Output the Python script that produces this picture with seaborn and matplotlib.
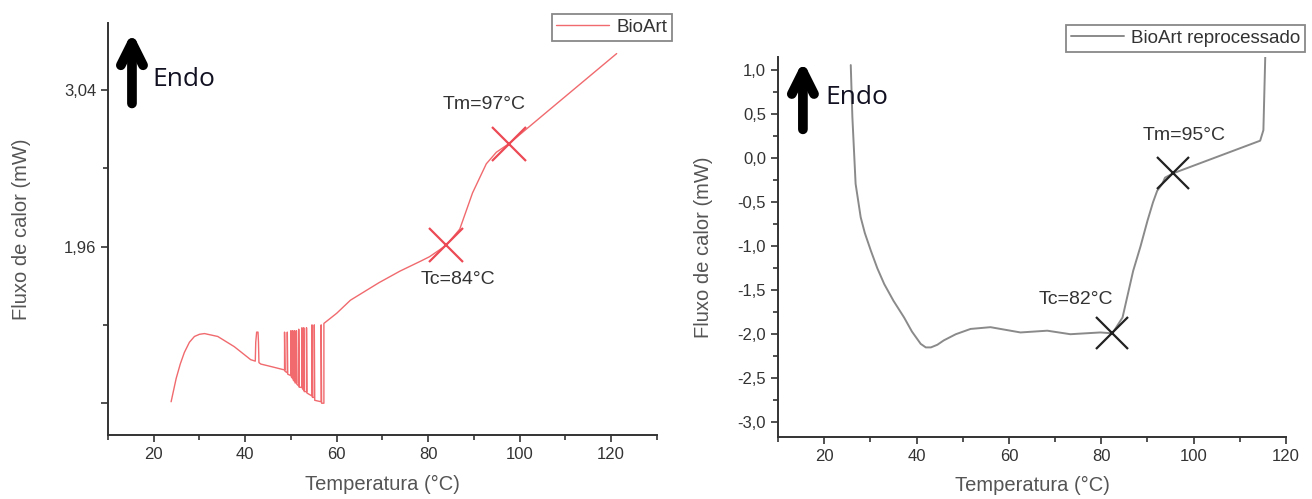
import matplotlib
matplotlib.use("Agg")
import matplotlib.pyplot as plt
import seaborn as sns
import pandas as pd

# ---------------- data ----------------
# Left panel: BioArt
temp_bioart = [23.8, 24.9, 25.8, 26.7, 27.8, 28.9, 30.0, 31.1, 34.0, 37.6, 41.2, 42.2, 42.3, 42.5, 42.8, 42.9, 43.0, 43.4, 46.0, 48.5,
               48.6, 48.6, 48.7,
               49.2, 49.2, 49.3,
               50.0, 50.0, 50.1,
               50.4, 50.4, 50.5,
               50.8, 50.8, 50.9,
               51.2, 51.2, 51.3,
               51.7, 51.7, 51.8,
               52.4, 52.4, 52.5,
               52.8, 52.8, 52.9,
               53.4, 53.4, 53.5,
               54.6, 54.6, 54.7,
               55.1, 55.1, 55.2,
               56.6, 56.6, 56.7,
               57.2, 57.2,
               60.0, 63.0, 69.2, 73.8, 78.4, 80.3, 84.0, 86.9, 89.7, 92.7, 94.9, 97.7, 106.4, 121.2]
flux_bioart = [0.89, 1.05, 1.15, 1.23, 1.30, 1.34, 1.355, 1.36, 1.34, 1.27, 1.18, 1.17, 1.30, 1.37, 1.37, 1.30, 1.16, 1.15, 1.13, 1.11,
               1.11, 1.37, 1.10,
               1.09, 1.37, 1.08,
               1.07, 1.38, 1.06,
               1.05, 1.38, 1.04,
               1.03, 1.38, 1.02,
               1.02, 1.38, 1.01,
               1.00, 1.39, 0.99,
               0.99, 1.40, 0.98,
               0.97, 1.40, 0.96,
               0.96, 1.40, 0.95,
               0.93, 1.42, 0.92,
               0.92, 1.42, 0.90,
               0.89, 1.42, 0.88,
               0.88, 1.43,
               1.50, 1.59, 1.71, 1.79, 1.86, 1.89, 1.97, 2.08, 2.33, 2.53, 2.61, 2.67, 2.90, 3.29]

# Right panel: BioArt reprocessado
temp_repro = [25.75, 26.1, 26.8, 27.9, 28.8, 30.1, 31.5, 33.0, 35.0, 37.3, 39.0, 40.9, 42.0, 43.1, 44.5, 45.9, 48.5,
              51.7, 56.0, 62.5, 68.3, 73.3, 79.8, 82.4, 84.6, 86.9, 88.5, 90.0, 91.2, 92.1, 93.2, 93.8, 95.6,
              114.4, 115.1, 115.5]
flux_repro = [1.06, 0.47, -0.29, -0.67, -0.85, -1.05, -1.25, -1.43, -1.62, -1.81, -1.97, -2.11, -2.15, -2.15, -2.12, -2.07, -2.00,
              -1.94, -1.92, -1.98, -1.96, -2.00, -1.98, -1.99, -1.81, -1.28, -1.00, -0.71, -0.50, -0.37, -0.29, -0.22, -0.17,
              0.20, 0.32, 1.15]

# Transition markers
left_marks_t = [84.0, 97.7]
left_marks_f = [1.97, 2.67]
right_marks_t = [82.4, 95.6]
right_marks_f = [-1.99, -0.17]

left_ytick_vals = [0.88, 1.96, 3.04]
left_ytick_labels = ["", "1,96", "3,04"]
left_yminor = [1.42, 2.50]
right_ytick_vals = [-3.0, -2.5, -2.0, -1.5, -1.0, -0.5, 0.0, 0.5, 1.0]
right_ytick_labels = ["-3,0", "-2,5", "-2,0", "-1,5", "-1,0", "-0,5", "0,0", "0,5", "1,0"]
right_yminor = [-2.75, -2.25, -1.75, -1.25, -0.75, -0.25, 0.25, 0.75]
xtick_vals = [20, 40, 60, 80, 100, 120]
xtick_labels = ["20", "40", "60", "80", "100", "120"]
left_xminor = [10, 30, 50, 70, 90, 110, 130]
right_xminor = [10, 30, 50, 70, 90, 110]

# ---------------- style ----------------
sns.set_style("ticks")
plt.rcParams['font.family'] = ['Liberation Sans', 'DejaVu Sans']

fig = plt.figure(figsize=(13.12, 4.99), dpi=100)
ax1 = fig.add_axes([0.0823, 0.128, 0.4184, 0.8257])
ax2 = fig.add_axes([0.593, 0.124, 0.3872, 0.7615])

df1 = pd.DataFrame({"t": temp_bioart, "f": flux_bioart})
df2 = pd.DataFrame({"t": temp_repro, "f": flux_repro})

red_line = "#f06a6e"
red_mark = "#ec4a55"
gray_line = "#8a8a8a"
spine_c = "#333333"
tick_c = "#333333"
label_c = "#555555"

sns.lineplot(data=df1, x="t", y="f", sort=False, estimator=None, ax=ax1,
             color=red_line, lw=1.0, label="BioArt")
sns.lineplot(data=df2, x="t", y="f", sort=False, estimator=None, ax=ax2,
             color=gray_line, lw=1.4, label="BioArt reprocessado")

ax1.plot(left_marks_t, left_marks_f, ls="none", marker="x", ms=25, mew=1.6, color=red_mark)
ax2.plot(right_marks_t, right_marks_f, ls="none", marker="x", ms=23, mew=1.6, color="#222222")

# limits
ax1.set_xlim(10.4, 129.8)
ax1.set_ylim(0.66, 3.50)
ax2.set_xlim(10.3, 120.0)
ax2.set_ylim(-3.17, 1.15)

# ticks
ax1.set_xticks(xtick_vals)
ax1.set_xticklabels(xtick_labels)
ax1.set_xticks(left_xminor, minor=True)
ax1.set_yticks(left_ytick_vals)
ax1.set_yticklabels(left_ytick_labels)
ax1.set_yticks(left_yminor, minor=True)

ax2.set_xticks(xtick_vals)
ax2.set_xticklabels(xtick_labels)
ax2.set_xticks(right_xminor, minor=True)
ax2.set_yticks(right_ytick_vals)
ax2.set_yticklabels(right_ytick_labels)
ax2.set_yticks(right_yminor, minor=True)

for ax in (ax1, ax2):
    sns.despine(ax=ax)
    for s in ("left", "bottom"):
        ax.spines[s].set_color(spine_c)
        ax.spines[s].set_linewidth(1.4)
    ax.tick_params(which="major", direction="out", length=5, width=1.2,
                   color=spine_c, labelcolor=tick_c, labelsize=12)
    ax.tick_params(which="minor", direction="out", length=3.5, width=1.2, color=spine_c)
    ax.set_xlabel("Temperatura (°C)", fontsize=14.5, color=label_c)
    ax.set_ylabel("Fluxo de calor (mW)", fontsize=14.5, color=label_c)

ax1.yaxis.set_label_coords(-0.140, 0.5)
ax1.xaxis.set_label_coords(0.5, -0.097)
ax2.yaxis.set_label_coords(-0.128, 0.5)
ax2.xaxis.set_label_coords(0.5, -0.101)

# annotations
ax1.text(92.3, 2.94, "Tm=97°C", fontsize=14, color="#333333", ha="center", va="center")
ax1.text(86.4, 1.73, "Tc=84°C", fontsize=14, color="#333333", ha="center", va="center")
ax2.text(98.0, 0.26, "Tm=95°C", fontsize=14, color="#333333", ha="center", va="center")
ax2.text(74.4, -1.605, "Tc=82°C", fontsize=14, color="#333333", ha="center", va="center")

# Endo arrows
arrow_kw = dict(arrowstyle="->", lw=7, color="black", mutation_scale=40, shrinkA=0, shrinkB=0)
ax1.annotate("", xy=(0.0437, 0.978), xytext=(0.0437, 0.805), xycoords="axes fraction",
             textcoords="axes fraction", arrowprops=arrow_kw)
ax1.text(0.080, 0.862, "Endo", transform=ax1.transAxes, fontsize=19, family=["Open Sans", "DejaVu Sans"],
         color="#111122", ha="left", va="center")
ax2.annotate("", xy=(0.049, 0.99), xytext=(0.049, 0.81), xycoords="axes fraction",
             textcoords="axes fraction", arrowprops=arrow_kw)
ax2.text(0.0925, 0.895, "Endo", transform=ax2.transAxes, fontsize=19, family=["Open Sans", "DejaVu Sans"],
         color="#111122", ha="left", va="center")

# legends
leg_kw = dict(fontsize=13.5, frameon=True, fancybox=False, handlelength=2.8,
              borderpad=0.25, handletextpad=0.4, borderaxespad=0.0, labelcolor="#333333")
l1 = ax1.legend(loc="upper right", bbox_to_anchor=(672 / 1312, 1 - 14 / 499),
                bbox_transform=fig.transFigure, **leg_kw)
l2 = ax2.legend(loc="upper right", bbox_to_anchor=(1305 / 1312, 1 - 25 / 499),
                bbox_transform=fig.transFigure, **leg_kw)
for lg in (l1, l2):
    fr = lg.get_frame()
    fr.set_edgecolor("#888888")
    fr.set_linewidth(1.3)
    fr.set_alpha(1)

fig.savefig("out.png", dpi=100)
